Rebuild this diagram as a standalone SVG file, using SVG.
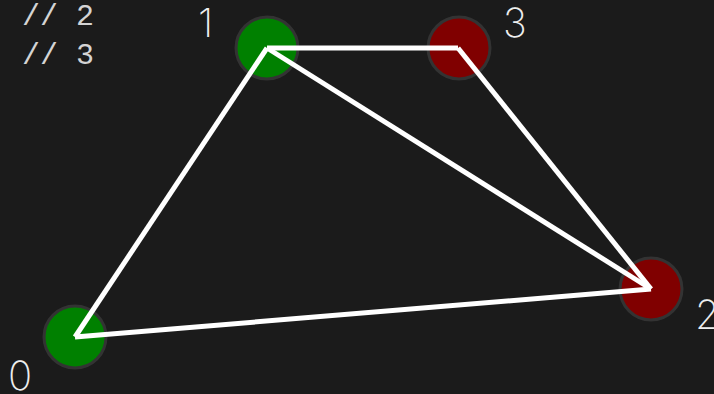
<svg xmlns="http://www.w3.org/2000/svg" width="714" height="394" viewBox="0 0 714 394">
<style>
.bg{fill:#1b1b1b}
.edge{stroke:#ffffff;stroke-width:5;fill:none;stroke-linecap:butt;stroke-linejoin:miter}
.g{fill:#008000;stroke:#333333;stroke-width:3}
.r{fill:#800000;stroke:#333333;stroke-width:3}
.lbl{font-family:Inter,"Liberation Sans",sans-serif;font-weight:200;font-size:40px;fill:#eeeeee}
.cm{font-family:"Liberation Mono","DejaVu Sans Mono",monospace;font-weight:normal;font-size:30px;fill:#d4d4d4}
</style>
<rect class="bg" x="0" y="0" width="714" height="394"/>
<g id="comments">
<text class="cm" x="22" y="25">// 2</text>
<text class="cm" x="22" y="64">// 3</text>
</g>
<g id="node0"><circle class="g" cx="75" cy="337" r="31"/><text class="lbl" x="8" y="390">0</text></g>
<g id="node1"><circle class="g" cx="267" cy="48" r="31"/><text class="lbl" x="198" y="37">1</text></g>
<g id="node2"><circle class="r" cx="651" cy="289" r="31"/><text class="lbl" x="695" y="329">2</text></g>
<g id="node3"><circle class="r" cx="459" cy="48" r="31"/><text class="lbl" x="503" y="37">3</text></g>
<g id="edges">
<line class="edge" x1="75" y1="337" x2="267" y2="48"/>
<line class="edge" x1="267" y1="48" x2="458" y2="48"/>
<line class="edge" x1="267" y1="48" x2="651" y2="289"/>
<line class="edge" x1="458" y1="48" x2="651" y2="289"/>
<line class="edge" x1="75" y1="337" x2="651" y2="289"/>
</g>
</svg>
